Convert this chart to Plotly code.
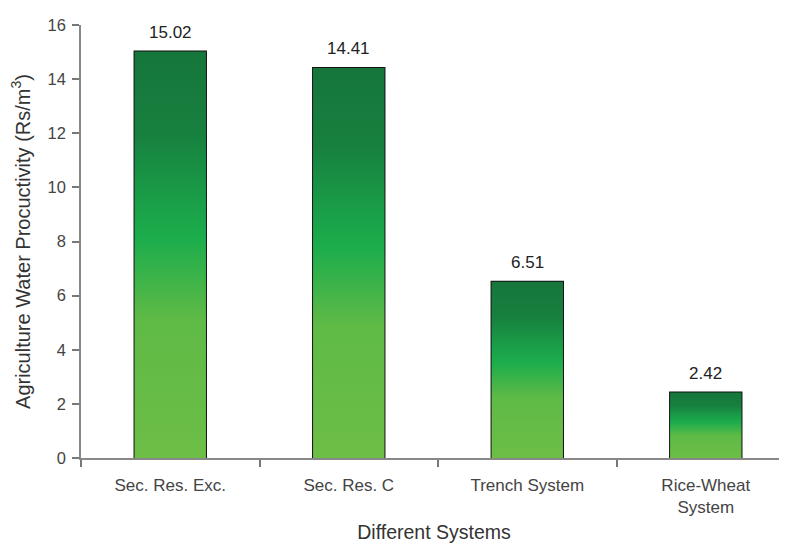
import plotly.graph_objects as go

categories = ["Sec. Res. Exc.", "Sec. Res. C", "Trench System", "Rice-Wheat<br>System"]
values = [15.02, 14.41, 6.51, 2.42]
value_labels = ["15.02", "14.41", "6.51", "2.42"]
y_ticks = [0, 2, 4, 6, 8, 10, 12, 14, 16]

BAR_W = 0.40
FONT = "Liberation Sans, Arial, sans-serif"
grad = [[0, "#6cbe46"], [0.34, "#5fba46"], [0.54, "#1cad4c"], [0.64, "#1a9d47"],
        [0.80, "#17803f"], [1, "#16763b"]]

fig = go.Figure()

# gradient fills on a hidden numeric axis aligned with the category axis
for i, v in enumerate(values):
    x0, x1 = i - BAR_W / 2, i + BAR_W / 2
    fig.add_trace(go.Scatter(
        x=[x0, x0, x1, x1, x0], y=[0, v, v, 0, 0],
        mode="lines", fill="toself",
        fillgradient=dict(type="vertical", colorscale=grad),
        line=dict(width=0), xaxis="x2", yaxis="y",
        hoverinfo="skip", showlegend=False))

fig.add_trace(go.Bar(
    x=categories, y=values, width=BAR_W,
    marker=dict(color="rgba(0,0,0,0)", line=dict(color="#111111", width=2)),
    showlegend=False))

for c, v, t in zip(categories, values, value_labels):
    fig.add_annotation(x=c, y=v, text=t, showarrow=False, yanchor="bottom",
                       yshift=8, font=dict(family=FONT, size=17, color="#222222"))

xr = [-0.5, 3.455]
fig.update_layout(
    width=787, height=544,
    margin=dict(l=73, r=8, t=12, b=94),
    paper_bgcolor="white", plot_bgcolor="white",
    font=dict(family=FONT, color="#444444"),
    xaxis=dict(
        type="category", range=xr, tickson="boundaries",
        ticks="outside", ticklen=7, tickcolor="#777777", tickwidth=1.5,
        showline=True, linecolor="#888888", linewidth=1.5,
        showgrid=False, zeroline=False, ticklabelstandoff=11,
        tickfont=dict(size=17, color="#444444"),
        title=dict(text="Different Systems", font=dict(size=19.5, color="#333333"), standoff=9),
    ),
    xaxis2=dict(range=xr, overlaying="x", visible=False, showgrid=False, zeroline=False),
    yaxis=dict(
        range=[0, 16], tickvals=y_ticks,
        ticks="outside", ticklen=7, tickcolor="#777777", tickwidth=1.5,
        showline=True, linecolor="#888888", linewidth=1.5,
        showgrid=False, zeroline=False, ticklabelstandoff=3,
        tickfont=dict(size=16.5, color="#444444"),
        title=dict(text="Agriculture Water Procuctivity (Rs/m<sup>3</sup>)",
                   font=dict(size=20, color="#333333"), standoff=12),
    ),
)

fig.write_html("out.html")
